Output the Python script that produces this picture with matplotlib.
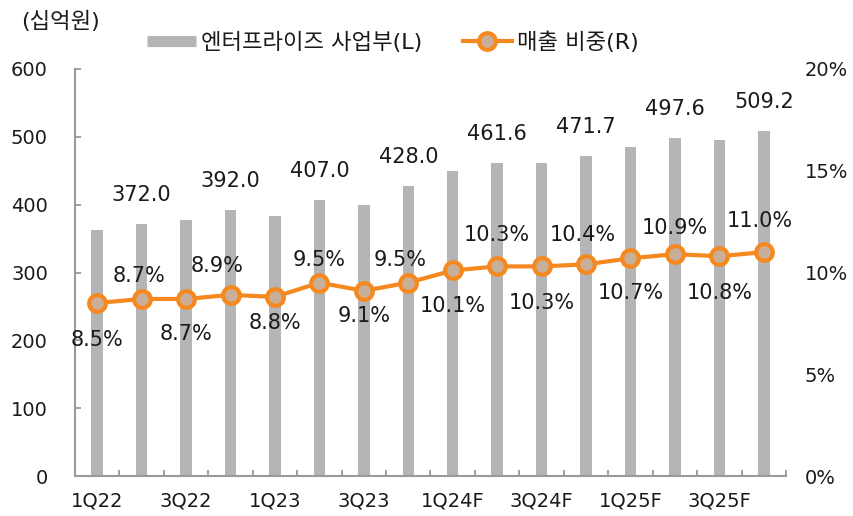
import matplotlib
matplotlib.use("Agg")
import matplotlib.pyplot as plt
from matplotlib.lines import Line2D
import numpy as np

plt.rcParams['font.family'] = ['DejaVu Sans', 'Noto Sans CJK KR']

# ---- data ----
quarters = ["1Q22", "2Q22", "3Q22", "4Q22", "1Q23", "2Q23", "3Q23", "4Q23",
            "1Q24F", "2Q24F", "3Q24F", "4Q24F", "1Q25F", "2Q25F", "3Q25F", "4Q25F"]
enterprise = [363, 372.0, 378, 392.0, 384, 407.0, 399, 428.0,
              450, 461.6, 461, 471.7, 485, 497.6, 496, 509.2]
share = [8.5, 8.7, 8.7, 8.9, 8.8, 9.5, 9.1, 9.5,
         10.1, 10.3, 10.3, 10.4, 10.7, 10.9, 10.8, 11.0]
left_ticks = [0, 100, 200, 300, 400, 500, 600]
right_ticks = [0, 5, 10, 15, 20]
unit_label = "(십억원)"
bar_name = "엔터프라이즈 사업부(L)"
line_name = "매출 비중(R)"

# ---- style ----
BAR_C = "#B4B5B7"
ORANGE = "#F5891F"
FACE = "#C9AE9A"
AXIS_C = "#9A9A9A"
TXT = "#1A1A1A"
PX = 0.72  # points per pixel at dpi 100

# label offsets (pixels): dx, dy for percent labels
pct_dx = [0, -3, 0, -13, 0, 0, 0, -8, 0, 0, 0, -3, 0, 0, 0, -4]
pct_dy = [-37, 23, -35, 29, -26, 23, -25, 23, -36, 31, -37, 29, -35, 26, -37, 31]

fig = plt.figure(figsize=(8.54, 5.16), dpi=100)
ax = fig.add_axes([75/854, 1-476/516, (786-75)/854, (476-69)/516])
ax2 = ax.twinx()

x = np.arange(len(quarters))
ax.bar(x, enterprise, width=0.26, color=BAR_C, zorder=2)
ax.set_xlim(-0.5, len(quarters)-0.5)
ax.set_ylim(0, 600)
ax.set_yticks(left_ticks)
ax.set_yticklabels([str(v) for v in left_ticks])

ax.set_xticks(x[::2])
ax.set_xticklabels(quarters[::2])
ax.set_xticks(np.arange(-0.5, len(quarters), 1.0), minor=True)
ax.tick_params(axis='x', which='major', length=0, pad=11.5, labelsize=14, labelcolor=TXT)
ax.tick_params(axis='x', which='minor', direction='in', length=6*PX, width=1.3, color=AXIS_C)
ax.tick_params(axis='y', direction='in', length=6*PX, width=1.3, color=AXIS_C,
               pad=27*PX, labelsize=14, labelcolor=TXT)

for s in ['top', 'right']:
    ax.spines[s].set_visible(False)
for s in ['left', 'bottom']:
    ax.spines[s].set_color(AXIS_C)
    ax.spines[s].set_linewidth(1.5)
for s in ax2.spines.values():
    s.set_visible(False)

# bar value labels (every other bar)
for i in range(1, len(quarters), 2):
    ax.annotate(f"{enterprise[i]:.1f}", (x[i], enterprise[i]), xytext=(0, 29*PX),
                textcoords='offset points', ha='center', va='center',
                fontsize=15, color=TXT, zorder=5)

ax2.plot(x, share, color=ORANGE, lw=3, marker='o', ms=12, mfc=FACE, mec=ORANGE,
         mew=3, zorder=4)
ax2.set_ylim(0, 20)
ax2.set_yticks(right_ticks)
ax2.set_yticklabels([f"{v}%" for v in right_ticks])
ax2.tick_params(axis='y', length=0, pad=19*PX, labelsize=14, labelcolor=TXT)

for i, v in enumerate(share):
    ax2.annotate(f"{v:.1f}%", (x[i], v), xytext=(pct_dx[i]*PX, pct_dy[i]*PX),
                 textcoords='offset points', ha='center', va='center',
                 fontsize=15, color=TXT, zorder=6)

ax.set_zorder(ax2.get_zorder() - 1)
ax.patch.set_visible(False)

fig.text(21/854, 1-21/516, unit_label, fontsize=16, color=TXT, va='center', ha='left')

handles = [Line2D([0], [0], color=BAR_C, lw=8, solid_capstyle='butt'),
           Line2D([0], [0], color=ORANGE, lw=3, marker='o', ms=12, mfc=FACE,
                  mec=ORANGE, mew=3)]
fig.legend(handles, [bar_name, line_name], loc='center left',
           bbox_to_anchor=(147/854, 1-42/516), bbox_transform=fig.transFigure,
           ncol=2, frameon=False, fontsize=16, handlelength=2.2, handletextpad=0.25,
           columnspacing=1.8, borderpad=0, borderaxespad=0, numpoints=1,
           labelcolor=TXT)

fig.savefig("out.png", dpi=100)
